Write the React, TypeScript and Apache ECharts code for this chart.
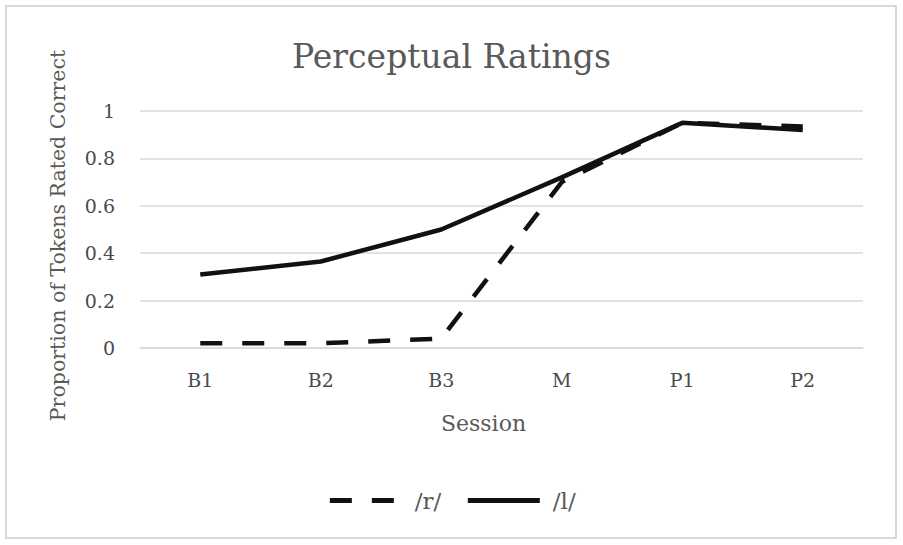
import React, { useEffect, useRef } from "react";
import * as echarts from "echarts";

const categories = ["B1", "B2", "B3", "M", "P1", "P2"];
const rValues = [0.02, 0.02, 0.04, 0.7, 0.95, 0.935];
const lValues = [0.31, 0.365, 0.5, 0.72, 0.95, 0.92];
const seriesNames = ["/r/", "/l/"];

const FONT = "DejaVu Serif";
const GRAY = "#595959";

export default function App() {
  const ref = useRef<HTMLDivElement>(null);
  useEffect(() => {
    if (!ref.current) return;
    const chart = echarts.init(ref.current, undefined, { renderer: "svg" });
    chart.setOption({
      animation: false,
      backgroundColor: "#ffffff",
      title: {
        text: "Perceptual Ratings",
        left: "center",
        top: 35,
        textStyle: { fontFamily: FONT, fontSize: 33, fontWeight: "normal", color: GRAY },
      },
      graphic: [
        {
          type: "rect",
          shape: { x: 6, y: 6, width: 890, height: 532 },
          style: { fill: "none", stroke: "#d9d9d9", lineWidth: 2 },
          silent: true,
        },
      ],
      grid: { left: 140, right: 40, top: 111, bottom: 197 },
      legend: {
        data: seriesNames,
        left: "center",
        top: 484,
        itemWidth: 72,
        itemHeight: 16,
        itemGap: 24,
        itemStyle: { opacity: 0 },
        lineStyle: { width: 5, color: "#111111" },
        textStyle: { fontFamily: FONT, fontSize: 23, color: GRAY, padding: [0, 0, 0, 8] },
      },
      xAxis: {
        type: "category",
        data: categories,
        boundaryGap: true,
        axisLine: { show: true, lineStyle: { color: "#d9d9d9", width: 1.5 } },
        axisTick: { show: false },
        axisLabel: { fontFamily: FONT, fontSize: 19, color: "#4a4a4a", margin: 22 },
        name: "Session",
        nameLocation: "middle",
        nameGap: 64,
        nameTextStyle: { fontFamily: FONT, fontSize: 22, color: GRAY, padding: [0, 36, 0, 0] },
      },
      yAxis: {
        type: "value",
        min: 0,
        max: 1,
        interval: 0.2,
        axisLine: { show: false },
        axisTick: { show: false },
        splitLine: { lineStyle: { color: "#d9d9d9", width: 1.5 } },
        axisLabel: { fontFamily: FONT, fontSize: 19, color: "#4a4a4a", margin: 25 },
        name: "Proportion of Tokens Rated Correct",
        nameLocation: "middle",
        nameGap: 72,
        nameTextStyle: { fontFamily: FONT, fontSize: 20.5, color: GRAY, padding: [0, 12, 0, 0] },
      },
      series: [
        {
          name: seriesNames[0],
          type: "line",
          data: rValues,
          symbol: "none",
          lineStyle: { color: "#111111", width: 4.5, type: [22, 20], cap: "butt" },
          itemStyle: { color: "#111111" },
        },
        {
          name: seriesNames[1],
          type: "line",
          data: lValues,
          symbol: "none",
          lineStyle: { color: "#111111", width: 4.5, type: "solid" },
          itemStyle: { color: "#111111" },
        },
      ],
    });
    return () => chart.dispose();
  }, []);
  return (
    <div
      ref={ref}
      style={{ position: "fixed", left: 0, top: 0, width: 903, height: 545, background: "#fff" }}
    />
  );
}
